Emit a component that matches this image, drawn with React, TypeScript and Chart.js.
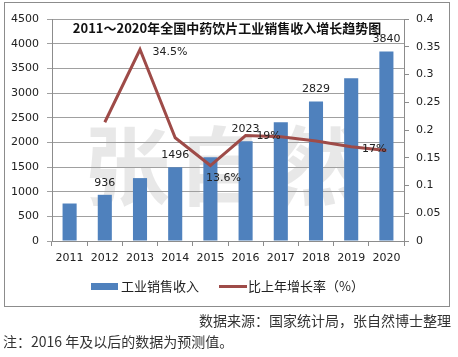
import React, { useEffect, useRef } from "react";
import { Chart, registerables } from "chart.js";

Chart.register(...registerables);

const years = ["2011", "2012", "2013", "2014", "2015", "2016", "2017", "2018", "2019", "2020"];
const salesRevenue = [760, 936, 1275, 1496, 1700, 2023, 2409, 2829, 3300, 3840];
const growthRate = [null, 0.214, 0.345, 0.186, 0.136, 0.19, 0.188, 0.18, 0.17, 0.163];
const barLabels = ["", "936", "", "1496", "", "2023", "", "2829", "", "3840"];
const lineLabels = ["", "", "34.5%", "", "13.6%", "19%", "", "", "17%", ""];
const title = "2011～2020年全国中药饮片工业销售收入增长趋势图";
const barSeriesName = "工业销售收入";
const lineSeriesName = "比上年增长率（%）";
const sourceNote = "数据来源：国家统计局，张自然博士整理";
const footNote = "注：2016 年及以后的数据为预测值。";
const watermark = ["张", "自", "然"];

const BAR_COLOR = "#4F81BD";
const LINE_COLOR = "#9E4B48";
const AXIS_COLOR = "#8c8c8c";
const CJK = '"Noto Sans CJK SC", "Noto Sans", sans-serif';
const NUM = '"DejaVu Sans", sans-serif';

const decorPlugin = {
  id: "decor",
  beforeDraw(chart: any) {
    const ctx = chart.ctx;
    ctx.save();
    ctx.fillStyle = "#ffffff";
    ctx.fillRect(0, 0, chart.width, chart.height);
    // watermark
    ctx.fillStyle = "rgba(0,0,0,0.09)";
    ctx.font = `bold 86px ${CJK}`;
    ctx.textAlign = "center";
    ctx.textBaseline = "middle";
    const centers = [127, 220, 318];
    watermark.forEach((c, i) => ctx.fillText(c, centers[i], 166));
    // border
    ctx.strokeStyle = AXIS_COLOR;
    ctx.lineWidth = 1;
    ctx.strokeRect(4.5, 2.5, 445, 304);
    ctx.restore();
  },
  afterDatasetsDraw(chart: any) {
    const ctx = chart.ctx;
    ctx.save();
    // bar labels
    const barMeta = chart.getDatasetMeta(1);
    ctx.font = `11px ${NUM}`;
    ctx.fillStyle = "#222";
    ctx.textAlign = "center";
    ctx.textBaseline = "middle";
    barMeta.data.forEach((el: any, i: number) => {
      if (barLabels[i]) ctx.fillText(barLabels[i], el.x, el.y - 12);
    });
    // line labels
    const lineMeta = chart.getDatasetMeta(0);
    const offsets: Record<number, [number, number]> = {
      2: [30, 3],
      4: [13, 13],
      5: [23, 1],
      8: [23, 2],
    };
    lineMeta.data.forEach((el: any, i: number) => {
      if (!lineLabels[i]) return;
      const o = offsets[i] || [0, -10];
      ctx.fillText(lineLabels[i], el.x + o[0], el.y + o[1]);
    });
    // title
    ctx.font = `bold 13px ${CJK}`;
    ctx.fillStyle = "#111";
    ctx.fillText(title, 227, 28);
    // legend
    ctx.fillStyle = BAR_COLOR;
    ctx.fillRect(91, 283, 27, 7);
    ctx.strokeStyle = LINE_COLOR;
    ctx.lineWidth = 3;
    ctx.beginPath();
    ctx.moveTo(219, 286.5);
    ctx.lineTo(247, 286.5);
    ctx.stroke();
    ctx.font = `13px ${CJK}`;
    ctx.fillStyle = "#222";
    ctx.textAlign = "left";
    ctx.fillText(barSeriesName, 121, 286);
    ctx.fillText(lineSeriesName, 248, 286);
    // notes
    ctx.font = `14px ${CJK}`;
    ctx.fillStyle = "#333";
    ctx.textAlign = "right";
    ctx.fillText(sourceNote, 451, 321);
    ctx.textAlign = "left";
    ctx.fillText(footNote, 3, 342);
    ctx.restore();
  },
};

export default function App() {
  const ref = useRef<HTMLCanvasElement | null>(null);
  useEffect(() => {
    if (!ref.current) return;
    const chart = new Chart(ref.current, {
      type: "bar",
      data: {
        labels: years,
        datasets: [
          {
            type: "line",
            label: lineSeriesName,
            data: growthRate as any,
            yAxisID: "y1",
            borderColor: LINE_COLOR,
            backgroundColor: LINE_COLOR,
            borderWidth: 3,
            pointRadius: 0,
            tension: 0,
            order: 0,
          } as any,
          {
            type: "bar",
            label: barSeriesName,
            data: salesRevenue,
            yAxisID: "y",
            backgroundColor: BAR_COLOR,
            barPercentage: 0.4,
            categoryPercentage: 1,
            order: 1,
          },
        ],
      },
      options: {
        responsive: false,
        animation: false,
        layout: { padding: { left: 0, right: 0, top: 19, bottom: 86 } },
        plugins: {
          legend: { display: false },
          tooltip: { enabled: false },
          title: { display: false },
        },
        scales: {
          x: {
            offset: true,
            grid: { display: true, drawOnChartArea: false, tickLength: 5, color: AXIS_COLOR, offset: true },
            border: { color: AXIS_COLOR },
            ticks: { font: { family: NUM, size: 11 }, color: "#222", padding: 6 },
            afterFit(scale: any) {
              scale.height = 30;
            },
          },
          y: {
            position: "left",
            min: 0,
            max: 4500,
            ticks: {
              stepSize: 500,
              font: { family: NUM, size: 11 },
              color: "#222",
              padding: 8,
              callback: (v: any) => String(v),
            },
            grid: { color: "#a0a0a0", tickLength: 5 },
            border: { color: AXIS_COLOR },
            afterFit(scale: any) {
              scale.width = 52;
            },
          },
          y1: {
            position: "right",
            min: 0,
            max: 0.4,
            ticks: {
              stepSize: 0.05,
              font: { family: NUM, size: 11 },
              color: "#222",
              padding: 7,
              callback: (v: any) => String(+Number(v).toFixed(2)),
            },
            grid: { drawOnChartArea: false, tickLength: 5, color: AXIS_COLOR },
            border: { color: AXIS_COLOR },
            afterFit(scale: any) {
              scale.width = 54;
            },
          },
        },
      },
      plugins: [decorPlugin],
    });
    return () => chart.destroy();
  }, []);
  return (
    <div style={{ position: "absolute", left: 0, top: 0, width: 458, height: 357 }}>
      <canvas ref={ref} width={458} height={357} style={{ width: 458, height: 357 }} />
    </div>
  );
}
